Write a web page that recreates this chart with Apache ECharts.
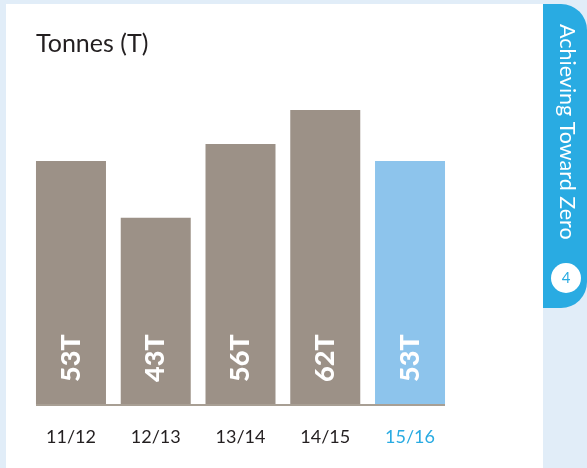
<!DOCTYPE html>
<html>
<head>
<meta charset="utf-8">
<style>
html, body { margin: 0; padding: 0; background: #e1edf8; }
#chart { width: 587px; height: 468px; }
</style>
<script src="https://cdn.jsdelivr.net/npm/echarts@6/dist/echarts.min.js"></script>
</head>
<body>
<div id="chart"></div>
<script>
const years = ['11/12', '12/13', '13/14', '14/15', '15/16'];
const tonnes = [53, 43, 56, 62, 53];
const highlightYear = '15/16';

const fontName = 'Lato';
const brown = '#9c9187';
const lightBlue = '#8dc4ec';
const tabBlue = '#29abe2';

const myChart = echarts.init(document.getElementById('chart'));

const option = {
    animation: false,
    backgroundColor: '#e1edf8',
    title: {
        text: 'Tonnes (T)',
        left: 31,
        top: 26,
        textStyle: {
            color: '#231f20',
            fontFamily: fontName,
            fontSize: 25,
            fontWeight: 'normal'
        }
    },
    grid: {
        left: 28.6,
        width: 423.8,
        top: 110,
        height: 295
    },
    xAxis: {
        type: 'category',
        data: years.map((y) => ({
            value: y,
            textStyle: { color: y === highlightYear ? tabBlue : '#231f20' }
        })),
        axisTick: { show: false },
        axisLine: { show: false },
        axisLabel: {
            fontFamily: fontName,
            fontSize: 18,
            margin: 23
        }
    },
    yAxis: {
        type: 'value',
        min: 10,
        max: 62,
        show: false
    },
    series: [{
        type: 'bar',
        barWidth: 70,
        z: 5,
        data: tonnes.map((v, i) => ({
            value: v,
            itemStyle: { color: years[i] === highlightYear ? lightBlue : brown }
        })),
        label: {
            show: true,
            position: 'insideBottom',
            rotate: 90,
            distance: 23,
            align: 'left',
            verticalAlign: 'middle',
            formatter: '{c}T',
            color: '#fff',
            fontFamily: fontName,
            fontSize: 27,
            fontWeight: 900
        }
    }],
    graphic: [
        // white panel
        { type: 'rect', z: 0, shape: { x: 6, y: 4, width: 537, height: 464 }, style: { fill: '#fff' } },
        // baseline
        { type: 'rect', z: 10, shape: { x: 36, y: 404, width: 409, height: 2 }, style: { fill: '#a89f94' } },
        // side tab
        { type: 'rect', z: 1, shape: { x: 543, y: 4, width: 44, height: 304, r: [0, 26, 26, 0] }, style: { fill: tabBlue } },
        {
            type: 'text', z: 2, x: 567, y: 24, rotation: -Math.PI / 2,
            style: {
                text: 'Achieving Toward Zero',
                fill: '#fff',
                font: '21.5px ' + fontName,
                align: 'left',
                verticalAlign: 'middle'
            }
        },
        { type: 'circle', z: 2, shape: { cx: 566, cy: 278, r: 15 }, style: { fill: '#fff' } },
        {
            type: 'text', z: 3, x: 566, y: 278,
            style: {
                text: '4',
                fill: tabBlue,
                font: '15px ' + fontName,
                align: 'center',
                verticalAlign: 'middle'
            }
        }
    ]
};

myChart.setOption(option);
</script>
</body>
</html>
